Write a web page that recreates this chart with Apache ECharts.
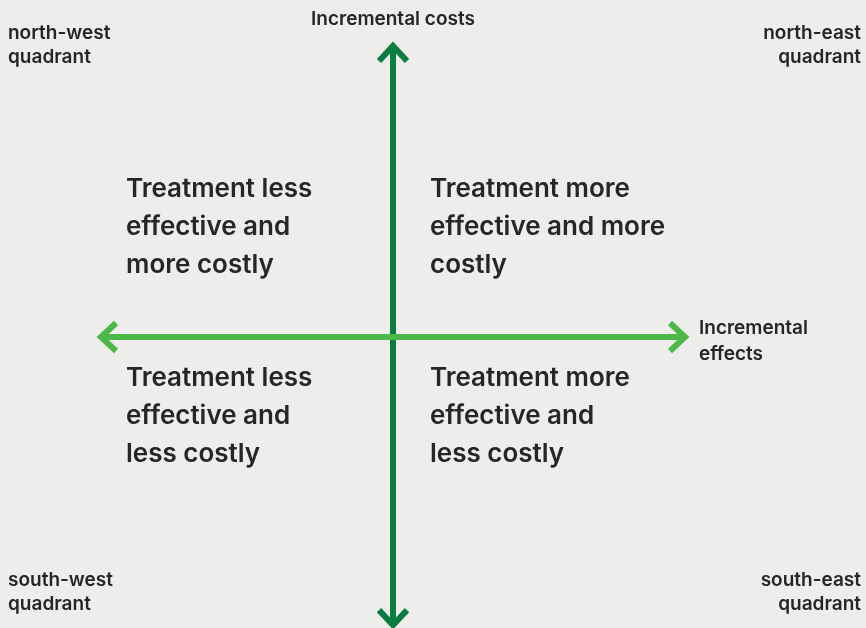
<!DOCTYPE html>
<html>
<head>
<meta charset="utf-8">
<script src="https://cdn.jsdelivr.net/npm/echarts@6/dist/echarts.min.js"></script>
<style>
  html, body { margin: 0; padding: 0; background: #eeedeb; }
  #chart { width: 866px; height: 628px; }
</style>
</head>
<body>
<div id="chart"></div>
<script>
// arrows: [x start, y start, x end, y end, colour index]
const axisArrows = [
  [0, -0.99, 0, 1, 0],   // incremental costs (vertical, both ways)
  [-1, 0, 1, 0, 1]       // incremental effects (horizontal, both ways)
];
const arrowColors = ['#0a7d40', '#4cb848'];

const quadrantTexts = [
  'Treatment less\neffective and\nmore costly',
  'Treatment more\neffective and more\ncostly',
  'Treatment less\neffective and\nless costly',
  'Treatment more\neffective and\nless costly'
];
const cornerLabels = ['north-west\nquadrant', 'north-east\nquadrant', 'south-west\nquadrant', 'south-east\nquadrant'];
const axisNames = ['Incremental costs', 'Incremental\neffects'];

const INK = '#262626';

const chart = echarts.init(document.getElementById('chart'));

// big quadrant captions
function big(str, x, y) {
  return {
    type: 'text', x: x, y: y,
    style: {
      text: str, fontFamily: 'Inter', fontWeight: 600, fontSize: 26, fill: INK,
      lineHeight: 38, verticalAlign: 'top'
    }
  };
}
// small corner / axis labels
function small(str, x, y, align, lh) {
  return {
    type: 'text', x: x, y: y,
    style: {
      text: str, fontFamily: 'Inter', fontWeight: 600, fontSize: 19, fill: INK,
      lineHeight: lh || 24, align: align || 'left', verticalAlign: 'top'
    }
  };
}

chart.setOption({
  backgroundColor: '#eeedeb',
  animation: false,
  grid: { left: 101, top: 46, width: 584, height: 584 },
  xAxis: { type: 'value', min: -1, max: 1, show: false },
  yAxis: { type: 'value', min: -1, max: 1, show: false },
  series: [{
    type: 'custom',
    data: axisArrows,
    renderItem: function (params, api) {
      const a = api.coord([api.value(0), api.value(1)]);
      const b = api.coord([api.value(2), api.value(3)]);
      const color = arrowColors[api.value(4)];
      const dx = b[0] - a[0], dy = b[1] - a[1];
      const len = Math.sqrt(dx * dx + dy * dy);
      const ux = dx / len, uy = dy / len;
      const px = -uy, py = ux;
      const back = 15, side = 14;
      function chevron(tip, dir) {
        return [
          [tip[0] - dir * ux * back + px * side, tip[1] - dir * uy * back + py * side],
          [tip[0], tip[1]],
          [tip[0] - dir * ux * back - px * side, tip[1] - dir * uy * back - py * side]
        ];
      }
      const st = { stroke: color, lineWidth: 6, fill: null, lineJoin: 'miter' };
      return {
        type: 'group',
        children: [
          { type: 'line', shape: { x1: a[0], y1: a[1], x2: b[0], y2: b[1] }, style: st },
          { type: 'polyline', shape: { points: chevron(b, 1) }, style: st },
          { type: 'polyline', shape: { points: chevron(a, -1) }, style: st }
        ]
      };
    }
  }],
  graphic: [
    big(quadrantTexts[0], 126, 170),
    big(quadrantTexts[1], 430, 170),
    big(quadrantTexts[2], 126, 359),
    big(quadrantTexts[3], 430, 359),
    small(cornerLabels[0], 8, 21),
    small(cornerLabels[1], 861, 21, 'right'),
    small(cornerLabels[2], 8, 568),
    small(cornerLabels[3], 861, 568, 'right'),
    small(axisNames[0], 393, 7, 'center'),
    small(axisNames[1], 699, 315, 'left', 26)
  ]
});
</script>
</body>
</html>
